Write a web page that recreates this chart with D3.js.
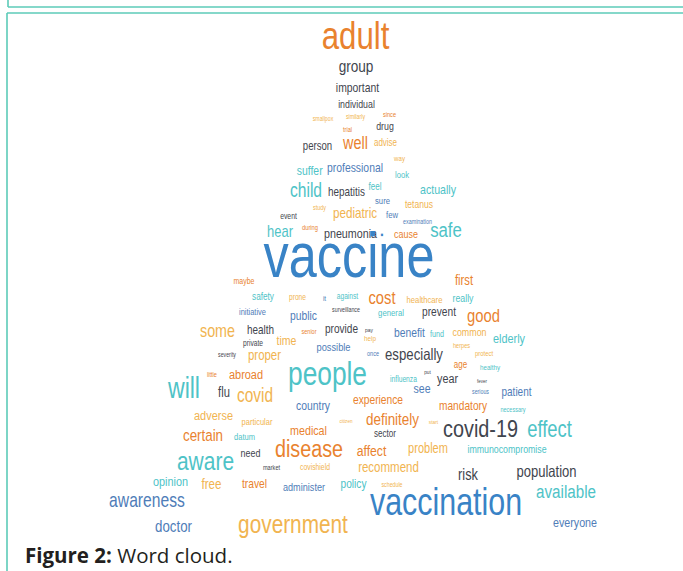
<!DOCTYPE html>
<html><head><meta charset="utf-8">
<script src="https://cdn.jsdelivr.net/npm/d3@7"></script>
<style>body{margin:0;background:#fff;}svg{display:block;}</style>
</head><body>
<svg id="c" width="683" height="571"></svg>
<script>
// ---- data (word, weight = relative frequency, colour group, layout position in cloud units) ----
const words = ["adult","group","important","individual","smallpox","similarly","since","trial","drug","person",
"well","advise","way","suffer","professional","look","child","hepatitis","feel","actually",
"sure","tetanus","study","event","pediatric","few","examination","hear","during","pneumonia",
"▪","cause","safe","vaccine","maybe","first","safety","prone","it","against",
"cost","healthcare","really","initiative","public","surveillance","some","health","senior","provide",
"pay","private","time","possible","severity","proper","people","general","prevent","good",
"benefit","fund","common","elderly","help","herpes","protect","once","especially","age",
"healthy","put","year","fever","influenza","patient","see","serious","experience","mandatory",
"necessary","definitely","citizen","start","covid-19","effect","sector","affect","problem","immunocompromise",
"recommend","risk","population","little","abroad","will","flu","covid","country","adverse",
"particular","certain","datum","medical","disease","need","aware","market","covishield","opinion",
"free","travel","administer","policy","schedule","awareness","doctor","government","vaccination","available",
"everyone"];
const weights = [39,17,13,11,6.5,6.6,7,7,11,12,
18,10,7.7,13,13,9.5,19.5,12.4,10,13.3,
9.6,10.7,6.8,8.5,14.6,9.6,6.7,16.2,7.2,13.4,
10,11.2,21,63,8.7,14,10.3,8.3,8,8.3,
18.4,9.6,11,9.3,12.9,6.6,17.9,12.4,6.9,12.6,
6.2,8.3,13.2,11.6,6.5,14.3,32.9,9.7,12.7,18.5,
12.9,9,11.1,13.6,7.9,7,7.4,6.9,16.5,10,
7.8,6,13.5,5.6,8.4,12.5,13.2,6.6,12.8,12.7,
6.9,16.8,5.7,6,24.8,23,10.1,15.3,13.8,11,
14.4,16,16.3,7,13.7,28.8,14,19.3,13,13.7,
9.4,16.7,9.4,13.4,24.7,11.2,26.2,7,8.5,13.6,
14.5,12.8,11.4,12.7,6.6,19.6,16.6,26,38,19,
13.4];
const groups = ["O","G","G","G","L","L","O","O","G","G",
"O","L","L","T","S","T","T","G","T","T",
"S","L","L","G","L","S","S","T","O","G",
"B","O","T","B","O","O","T","L","S","T",
"O","L","T","S","S","G","L","G","O","G",
"G","G","L","S","G","L","T","T","G","O",
"S","T","L","T","L","L","L","S","G","O",
"T","G","G","G","T","S","S","S","O","O",
"T","O","L","L","G","T","G","O","L","T",
"L","G","G","O","O","T","G","L","S","L",
"L","O","T","O","O","G","T","G","L","T",
"L","O","S","T","L","S","S","L","B","T",
"S"];
// layout position of each word (centre, baseline) in cloud units
const cloudX = [255.5,256,257.5,256.5,223,255.5,289.5,247.5,285,217.5,
255.5,285.5,299.5,209.7,255,302,206,246.5,275,338,
282.5,319,219.5,188.5,255,292,317.5,180,210,250.5,
282,306,346,249,144,364,163,197.5,224.5,247.5,
282,324.5,363,152.5,203.5,246,117.5,160.5,209,241.5,
269,153,186.5,233.5,127,164.5,227.5,291,339,383.5,
309.5,337,369.5,409,270,361.5,384,273,314,360.5,
390,327.5,347.5,382,303.5,416.5,322,380.5,278,363,
413,292.5,246,333.5,380.5,449.5,285,271.5,328,407,
288.5,368,446.5,112,146,84,124,155,213,113.5,
157,103,144.5,208.5,209,150.5,105.5,171.5,215,70.5,
111.5,154.5,204,253.5,292,47,73.5,193,346,466,
475];
const cloudY = [29,52,72,88,101,99,97,112,110,130,
129,126,141,155,152,158,177,176,170,174,
184,188,190,199,198,198,204,216.5,210,218,
218,218,217,257,264,265,280,280,281,279,
284,283,282,295,300,292,317,314,314,313,
312,326,325,331,337,340,365,296,296,302,
317,317,316,323,321,328,336,336,340,348,
350,354,363,363,362,376,373,374,384,390,
392,405,403,404,417,417,417,436,433,433,
452,460,457,357,359,378,377,382,390,400,
405,421,420,415,437,437,450,450,450,466,
469,468,471,468,467,487,512,513,495,478,
507];

// ---- scales ----
const W = 683, H = 571;
const svg = d3.select("#c");
const x = d3.scaleLinear().domain([0, 500]).range([100, 600]);
const y = d3.scaleLinear().domain([0, 520]).range([20, 540]);
const size = d3.scaleLinear().domain([d3.min(weights), d3.max(weights)]).range([d3.min(weights), d3.max(weights)]);
const color = d3.scaleOrdinal().domain(["O","L","T","B","S","G"])
  .range(["#e9822e","#f1b450","#4ec3c7","#3983c6","#4f7db8","#3f454e"]);

// ---- frame ----
const frame = "#5ccbb8";
svg.append("line").attr("x1",8).attr("x2",W).attr("y1",7).attr("y2",7).attr("stroke",frame).attr("stroke-width",1.6);
svg.append("line").attr("x1",8).attr("x2",8).attr("y1",0).attr("y2",7).attr("stroke",frame).attr("stroke-width",1.6);
svg.append("line").attr("x1",7).attr("x2",W).attr("y1",13).attr("y2",13).attr("stroke",frame).attr("stroke-width",1.6);
svg.append("line").attr("x1",7).attr("x2",7).attr("y1",13).attr("y2",H).attr("stroke",frame).attr("stroke-width",1.6);

// ---- words ----
const data = words.map((w,i)=>({w, s:weights[i], g:groups[i], cx:cloudX[i], cy:cloudY[i]}));
svg.append("g").selectAll("text").data(data).join("text")
  .attr("transform", d => `translate(${x(d.cx)},${y(d.cy)}) scale(0.8,1)`)
  .attr("text-anchor","middle")
  .attr("font-family","'Liberation Sans', Arial, sans-serif")
  .attr("font-size", d => size(d.s) + "px")
  .attr("fill", d => color(d.g))
  .text(d => d.w);

// ---- caption ----
const cap = svg.append("text").attr("x",25).attr("y",563)
  .attr("font-family","'Open Sans', 'Noto Sans', sans-serif").attr("font-size","20.5px").attr("fill","#231f20");
cap.append("tspan").attr("font-weight","bold").text("Figure 2:");
cap.append("tspan").text(" Word cloud.");
</script>
</body></html>
